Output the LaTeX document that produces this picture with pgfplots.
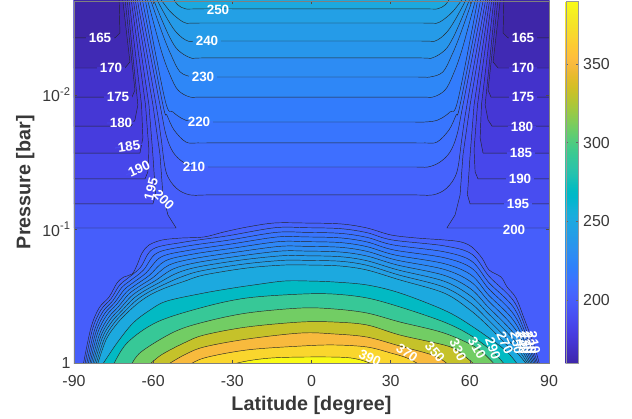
\documentclass[border=0pt]{standalone}
\usepackage{pgfplots}
\usepackage{fontspec}
\setmainfont{Liberation Sans}
\pgfplotsset{compat=1.18}
\definecolor{c160}{rgb}{0.2422,0.1504,0.6603}
\definecolor{c165}{rgb}{0.2504,0.1650,0.7076}
\definecolor{c170}{rgb}{0.2647,0.1978,0.7952}
\definecolor{c175}{rgb}{0.2706,0.2147,0.8364}
\definecolor{c180}{rgb}{0.2751,0.2342,0.8710}
\definecolor{c185}{rgb}{0.2803,0.2782,0.9221}
\definecolor{c190}{rgb}{0.2813,0.3006,0.9414}
\definecolor{c195}{rgb}{0.2795,0.3447,0.9717}
\definecolor{c200}{rgb}{0.2760,0.3667,0.9829}
\definecolor{c205}{rgb}{0.2699,0.3892,0.9906}
\definecolor{c210}{rgb}{0.2440,0.4358,0.9988}
\definecolor{c215}{rgb}{0.2206,0.4603,0.9973}
\definecolor{c220}{rgb}{0.1963,0.4847,0.9892}
\definecolor{c225}{rgb}{0.1786,0.5289,0.9682}
\definecolor{c230}{rgb}{0.1764,0.5499,0.9520}
\definecolor{c235}{rgb}{0.1540,0.5902,0.9218}
\definecolor{c240}{rgb}{0.1460,0.6091,0.9079}
\definecolor{c245}{rgb}{0.1380,0.6276,0.8973}
\definecolor{c250}{rgb}{0.1113,0.6635,0.8763}
\definecolor{c270}{rgb}{0.0067,0.7312,0.7660}
\definecolor{c290}{rgb}{0.2161,0.7843,0.5923}
\definecolor{c310}{rgb}{0.4456,0.8024,0.3909}
\definecolor{c330}{rgb}{0.7738,0.7598,0.1646}
\definecolor{c350}{rgb}{0.9728,0.7298,0.2394}
\definecolor{c370}{rgb}{0.9786,0.8403,0.1778}
\definecolor{c390}{rgb}{0.9769,0.9839,0.0805}
\definecolor{tk}{gray}{0.22}
\pgfplotsset{
  colormap={parula}{rgb=(0.2422,0.1504,0.6603) rgb=(0.2504,0.1650,0.7076) rgb=(0.2578,0.1818,0.7511) rgb=(0.2647,0.1978,0.7952) rgb=(0.2706,0.2147,0.8364) rgb=(0.2751,0.2342,0.8710) rgb=(0.2783,0.2559,0.8991) rgb=(0.2803,0.2782,0.9221) rgb=(0.2813,0.3006,0.9414) rgb=(0.2810,0.3228,0.9579) rgb=(0.2795,0.3447,0.9717) rgb=(0.2760,0.3667,0.9829) rgb=(0.2699,0.3892,0.9906) rgb=(0.2602,0.4123,0.9952) rgb=(0.2440,0.4358,0.9988) rgb=(0.2206,0.4603,0.9973) rgb=(0.1963,0.4847,0.9892) rgb=(0.1834,0.5074,0.9798) rgb=(0.1786,0.5289,0.9682) rgb=(0.1764,0.5499,0.9520) rgb=(0.1687,0.5703,0.9359) rgb=(0.1540,0.5902,0.9218) rgb=(0.1460,0.6091,0.9079) rgb=(0.1380,0.6276,0.8973) rgb=(0.1248,0.6459,0.8883) rgb=(0.1113,0.6635,0.8763) rgb=(0.0952,0.6798,0.8598) rgb=(0.0689,0.6948,0.8394) rgb=(0.0297,0.7082,0.8163) rgb=(0.0036,0.7203,0.7917) rgb=(0.0067,0.7312,0.7660) rgb=(0.0433,0.7411,0.7394) rgb=(0.0964,0.7500,0.7120) rgb=(0.1408,0.7584,0.6842) rgb=(0.1717,0.7670,0.6554) rgb=(0.1938,0.7758,0.6251) rgb=(0.2161,0.7843,0.5923) rgb=(0.2470,0.7918,0.5567) rgb=(0.2906,0.7973,0.5188) rgb=(0.3406,0.8008,0.4789) rgb=(0.3909,0.8029,0.4354) rgb=(0.4456,0.8024,0.3909) rgb=(0.5044,0.7993,0.3480) rgb=(0.5616,0.7942,0.3045) rgb=(0.6174,0.7876,0.2612) rgb=(0.6720,0.7793,0.2227) rgb=(0.7242,0.7698,0.1910) rgb=(0.7738,0.7598,0.1646) rgb=(0.8203,0.7498,0.1535) rgb=(0.8634,0.7406,0.1596) rgb=(0.9035,0.7330,0.1774) rgb=(0.9393,0.7288,0.2100) rgb=(0.9728,0.7298,0.2394) rgb=(0.9956,0.7434,0.2371) rgb=(0.9970,0.7659,0.2199) rgb=(0.9952,0.7861,0.1991) rgb=(0.9892,0.8134,0.1885) rgb=(0.9786,0.8403,0.1778) rgb=(0.9676,0.8658,0.1600) rgb=(0.9610,0.8894,0.1537) rgb=(0.9597,0.9135,0.1423) rgb=(0.9628,0.9373,0.1265) rgb=(0.9691,0.9606,0.1064) rgb=(0.9769,0.9839,0.0805)},
  table/lp/.style={x index=0,y expr={10^(\thisrowno{1})},row sep=\\},
  lev/.style={fill=#1,draw=black!85,line width=0.45bp,line join=round},
  levs/.style={lev=#1,smooth,tension=0.55},
}
\newcommand\tkfont{\fontsize{16}{18}\selectfont\color{tk}}
\newcommand\lbfont{\fontsize{19.8}{22}\selectfont\bfseries\color{tk}}
\newcommand\labfont{\fontsize{13.5}{15}\selectfont\bfseries\color{white}}
% #1 x px, #2 y px, #3 rotation, #4 text, #5 colour of the strip that opens the contour line
\newcommand\lab[5]{\node[fill=#5,inner sep=0pt,minimum width=28bp,minimum height=1.3bp,rotate=#3] at (#1,#2) {};
  \node[inner sep=0pt,rotate=#3,font=\labfont] at (#1,#2) {#4};}
\newcommand\labb[4]{\node[inner sep=0pt,rotate=#3,font=\labfont] at (#1,#2) {#4};}
\begin{document}
\begin{tikzpicture}
\path[use as bounding box] (-74bp,-55.5bp) rectangle (558bp,363.5bp);
\begin{axis}[
  scale only axis,width=475bp,height=362.5bp,
  xmin=-90,xmax=90,ymin=0.002,ymax=1,ymode=log,y dir=reverse,
  xtick={-90,-60,-30,0,30,60,90},
  xticklabels={-90,-60,-30,0,30,60,90},
  ytick={0.01,0.1,1},
  yticklabels={10\textsuperscript{-2},10\textsuperscript{-1},1},
  minor tick num=0,
  yminorticks=false,
  tick align=inside,major tick length=3.5bp,
  tick style={black!70,line width=0.4bp},
  axis line style={black!50,line width=0.5bp},
  ticklabel style={font=\tkfont},
  x tick label style={yshift=-8bp},
  xlabel={Latitude [degree]},ylabel={Pressure [bar]},
  xlabel style={font=\lbfont,yshift=-3bp},
  ylabel style={font=\lbfont,yshift=1bp},
  colormap name=parula,
  point meta min=159.5,point meta max=390,
  colorbar,
  colorbar style={
    at={(1.0352,1)},anchor=north west,width=12bp,
    ytick={200,250,300,350},
    /pgf/number format/assume math mode=true,
    yticklabel style={font=\tkfont,xshift=2bp},
    tick align=inside,major tick length=2bp,
    tick style={black!60,line width=0.3bp},
    axis line style={black!40,line width=0.4bp},
  },
  axis on top,
]
% background band, 200 to 205 K
\addplot[fill=c200,draw=none] table[lp] {lat logp\\ -95 0.1\\ 95 0.1\\ 95 -2.85\\ -95 -2.85\\} -- cycle;
% polar cold regions, contours 200 ... 165
\addplot[lev=c195] table[lp] {lat logp\\ -95 -1.009\\ -51.3 -1.009\\ -54.4 -1.106\\ -56.3 -1.255\\ -57.4 -1.552\\ -60.1 -1.925\\ -66.9 -2.72\\ 66.9 -2.72\\ 60.1 -1.925\\ 57.4 -1.552\\ 56.3 -1.255\\ 54.4 -1.106\\ 51.3 -1.009\\ 95 -1.009\\ 95 -2.85\\ -95 -2.85\\} -- cycle;
\addplot[lev=c190] table[lp] {lat logp\\ -95 -1.188\\ -60.1 -1.188\\ -59.1 -1.255\\ -60.1 -1.552\\ -61.6 -1.925\\ -67.6 -2.72\\ 67.6 -2.72\\ 61.6 -1.925\\ 60.1 -1.552\\ 59.1 -1.255\\ 60.1 -1.188\\ 95 -1.188\\ 95 -2.85\\ -95 -2.85\\} -- cycle;
\addplot[lev=c185] table[lp] {lat logp\\ -95 -1.374\\ -63.1 -1.374\\ -62.0 -1.426\\ -61.6 -1.590\\ -62.9 -1.925\\ -68.4 -2.72\\ 68.4 -2.72\\ 62.9 -1.925\\ 61.6 -1.590\\ 62.0 -1.426\\ 63.1 -1.374\\ 95 -1.374\\ 95 -2.85\\ -95 -2.85\\} -- cycle;
\addplot[lev=c180] table[lp] {lat logp\\ -95 -1.567\\ -65.0 -1.567\\ -63.9 -1.679\\ -64.4 -1.925\\ -69.2 -2.72\\ 69.2 -2.72\\ 64.4 -1.925\\ 63.9 -1.679\\ 65.0 -1.567\\ 95 -1.567\\ 95 -2.85\\ -95 -2.85\\} -- cycle;
\addplot[lev=c175] table[lp] {lat logp\\ -95 -1.768\\ -68.4 -1.768\\ -66.9 -1.813\\ -65.8 -1.925\\ -69.9 -2.72\\ 69.9 -2.72\\ 65.8 -1.925\\ 66.9 -1.813\\ 68.4 -1.768\\ 95 -1.768\\ 95 -2.85\\ -95 -2.85\\} -- cycle;
\addplot[lev=c170] table[lp] {lat logp\\ -95 -1.984\\ -68.0 -1.984\\ -66.9 -2.036\\ -70.7 -2.72\\ 70.7 -2.72\\ 66.9 -2.036\\ 68.0 -1.984\\ 95 -1.984\\ 95 -2.85\\ -95 -2.85\\} -- cycle;
\addplot[lev=c165] table[lp] {lat logp\\ -95 -2.200\\ -70.7 -2.200\\ -68.8 -2.245\\ -71.6 -2.72\\ 71.6 -2.72\\ 68.8 -2.245\\ 70.7 -2.200\\ 95 -2.200\\ 95 -2.85\\ -95 -2.85\\} -- cycle;
\addplot[lev=c160] table[lp] {lat logp\\ -95 -2.424\\ -74.5 -2.424\\ -72.6 -2.461\\ -72.9 -2.72\\ 72.9 -2.72\\ 72.6 -2.461\\ 74.5 -2.424\\ 95 -2.424\\ 95 -2.85\\ -95 -2.85\\} -- cycle;
% equatorial warm upper region, contours 205 ... 250
\addplot[levs=c205] table[lp] {lat logp\\ -66.1 -2.72\\ -58.9 -1.925\\ -57.0 -1.679\\ -55.1 -1.426\\ -51.3 -1.307\\ -46.0 -1.255\\ -38 -1.255\\ 0 -1.255\\ 38 -1.255\\ 46.0 -1.255\\ 51.3 -1.307\\ 55.1 -1.426\\ 57.0 -1.679\\ 58.9 -1.925\\ 66.1 -2.72\\} -- cycle;
\addplot[levs=c210] table[lp] {lat logp\\ -65.2 -2.72\\ -57.4 -1.925\\ -55.1 -1.701\\ -52.5 -1.575\\ -48.7 -1.500\\ -44.1 -1.463\\ -38 -1.463\\ 0 -1.463\\ 38 -1.463\\ 44.1 -1.463\\ 48.7 -1.500\\ 52.5 -1.575\\ 55.1 -1.701\\ 57.4 -1.925\\ 65.2 -2.72\\} -- cycle;
\addplot[levs=c215] table[lp] {lat logp\\ -64.2 -2.72\\ -56.3 -1.925\\ -54.8 -1.850\\ -52.1 -1.739\\ -47.6 -1.649\\ -43.0 -1.642\\ -37 -1.642\\ 0 -1.642\\ 37 -1.642\\ 43.0 -1.642\\ 47.6 -1.649\\ 52.1 -1.739\\ 54.8 -1.850\\ 56.3 -1.925\\ 64.2 -2.72\\} -- cycle;
\addplot[levs=c220] table[lp] {lat logp\\ -63.1 -2.72\\ -55.5 -1.962\\ -52.5 -1.873\\ -47.9 -1.813\\ -43.0 -1.798\\ -37 -1.798\\ 0 -1.798\\ 37 -1.798\\ 43.0 -1.798\\ 47.9 -1.813\\ 52.5 -1.873\\ 55.5 -1.962\\ 63.1 -2.72\\} -- cycle;
\addplot[levs=c225] table[lp] {lat logp\\ -62.3 -2.72\\ -57.0 -2.334\\ -53.6 -2.148\\ -50.6 -2.036\\ -46.0 -1.984\\ -40 -1.984\\ 0 -1.984\\ 40 -1.984\\ 46.0 -1.984\\ 50.6 -2.036\\ 53.6 -2.148\\ 57.0 -2.334\\ 62.3 -2.72\\} -- cycle;
\addplot[levs=c230] table[lp] {lat logp\\ -61.2 -2.72\\ -56.3 -2.446\\ -53.2 -2.297\\ -49.8 -2.171\\ -44.9 -2.133\\ -39 -2.133\\ 0 -2.133\\ 39 -2.133\\ 44.9 -2.133\\ 49.8 -2.171\\ 53.2 -2.297\\ 56.3 -2.446\\ 61.2 -2.72\\} -- cycle;
\addplot[levs=c235] table[lp] {lat logp\\ -60.1 -2.72\\ -56.7 -2.558\\ -53.6 -2.424\\ -50.6 -2.334\\ -45.7 -2.275\\ -40 -2.275\\ 0 -2.275\\ 40 -2.275\\ 45.7 -2.275\\ 50.6 -2.334\\ 53.6 -2.424\\ 56.7 -2.558\\ 60.1 -2.72\\} -- cycle;
\addplot[levs=c240] table[lp] {lat logp\\ -58.9 -2.72\\ -54.4 -2.558\\ -51.0 -2.461\\ -46.8 -2.401\\ -41 -2.401\\ 0 -2.401\\ 41 -2.401\\ 46.8 -2.401\\ 51.0 -2.461\\ 54.4 -2.558\\ 58.9 -2.72\\} -- cycle;
\addplot[levs=c245] table[lp] {lat logp\\ -57.4 -2.72\\ -54.4 -2.640\\ -51.3 -2.580\\ -47.6 -2.535\\ -42 -2.535\\ 0 -2.535\\ 42 -2.535\\ 47.6 -2.535\\ 51.3 -2.580\\ 54.4 -2.640\\ 57.4 -2.72\\} -- cycle;
\addplot[levs=c250] table[lp] {lat logp\\ -52.5 -2.72\\ -50.6 -2.669\\ -47.6 -2.640\\ -42 -2.640\\ 0 -2.640\\ 42 -2.640\\ 47.6 -2.640\\ 50.6 -2.669\\ 52.5 -2.72\\} -- cycle;
% lower dome, contours 205 ... 390
\addplot[levs=c205] table[lp] {lat logp\\ -86.6 0.02\\ -83.6 -0.264\\ -80.5 -0.413\\ -76.7 -0.495\\ -73.7 -0.599\\ -71.1 -0.644\\ -68.0 -0.666\\ -66.1 -0.733\\ -64.2 -0.823\\ -61.6 -0.882\\ -56.7 -0.919\\ -49.5 -0.934\\ -40.7 -0.942\\ -33.2 -0.979\\ -24.4 -1.016\\ -14.2 -1.046\\ -2.8 -1.046\\ 11.2 -1.039\\ 21.0 -1.009\\ 30.1 -0.957\\ 40.0 -0.934\\ 50.2 -0.920\\ 56.6 -0.905\\ 60.8 -0.867\\ 64.6 -0.785\\ 67.3 -0.696\\ 71.8 -0.644\\ 74.1 -0.570\\ 77.5 -0.488\\ 80.5 -0.339\\ 84.3 -0.138\\ 86.6 0.02\\} -- cycle;
\addplot[levs=c210] table[lp] {lat logp\\ -86.0 0.02\\ -83.0 -0.254\\ -79.8 -0.399\\ -76.0 -0.481\\ -72.8 -0.582\\ -70.0 -0.629\\ -64.9 -0.714\\ -60.1 -0.852\\ -48.5 -0.903\\ -32.2 -0.949\\ -13.8 -1.011\\ -2.0 -1.011\\ 11.0 -1.004\\ 21.0 -0.974\\ 30.5 -0.920\\ 50.2 -0.876\\ 60.7 -0.815\\ 67.2 -0.651\\ 73.8 -0.528\\ 77.2 -0.447\\ 80.3 -0.309\\ 86.1 0.02\\} -- cycle;
\addplot[levs=c215] table[lp] {lat logp\\ -85.4 0.02\\ -82.3 -0.244\\ -79.1 -0.385\\ -75.3 -0.467\\ -71.9 -0.566\\ -68.9 -0.614\\ -63.7 -0.695\\ -58.6 -0.822\\ -47.5 -0.873\\ -31.2 -0.919\\ -13.4 -0.976\\ -2.0 -0.976\\ 11.0 -0.969\\ 21.0 -0.939\\ 30.9 -0.883\\ 50.2 -0.832\\ 60.6 -0.763\\ 67.1 -0.605\\ 73.5 -0.486\\ 77.0 -0.405\\ 80.0 -0.279\\ 85.6 0.02\\} -- cycle;
\addplot[levs=c220] table[lp] {lat logp\\ -84.8 0.02\\ -81.7 -0.234\\ -78.4 -0.371\\ -74.6 -0.453\\ -71.0 -0.549\\ -67.8 -0.599\\ -62.6 -0.676\\ -57.0 -0.793\\ -46.6 -0.842\\ -30.3 -0.890\\ -12.9 -0.942\\ -2.0 -0.942\\ 11.0 -0.935\\ 21.0 -0.905\\ 31.2 -0.845\\ 50.2 -0.788\\ 60.6 -0.711\\ 67.0 -0.560\\ 73.2 -0.443\\ 76.7 -0.364\\ 79.8 -0.250\\ 85.1 0.02\\} -- cycle;
\addplot[levs=c225] table[lp] {lat logp\\ -84.2 0.02\\ -81.1 -0.224\\ -77.7 -0.357\\ -73.9 -0.439\\ -70.1 -0.532\\ -66.7 -0.584\\ -61.4 -0.657\\ -55.5 -0.763\\ -45.6 -0.812\\ -29.3 -0.860\\ -12.5 -0.907\\ -2.0 -0.907\\ 11.0 -0.900\\ 21.0 -0.870\\ 31.6 -0.808\\ 50.2 -0.744\\ 60.5 -0.659\\ 66.9 -0.514\\ 72.9 -0.401\\ 76.5 -0.322\\ 79.5 -0.220\\ 84.6 0.02\\} -- cycle;
\addplot[levs=c230] table[lp] {lat logp\\ -83.7 0.02\\ -80.4 -0.215\\ -76.9 -0.343\\ -73.1 -0.425\\ -69.3 -0.516\\ -65.6 -0.570\\ -60.2 -0.638\\ -54.0 -0.733\\ -44.6 -0.781\\ -28.3 -0.830\\ -12.1 -0.872\\ -2.0 -0.872\\ 11.0 -0.865\\ 21.0 -0.835\\ 32.0 -0.771\\ 50.2 -0.701\\ 60.4 -0.608\\ 66.9 -0.469\\ 72.6 -0.359\\ 76.2 -0.281\\ 79.3 -0.190\\ 84.1 0.02\\} -- cycle;
\addplot[levs=c235] table[lp] {lat logp\\ -83.1 0.02\\ -79.8 -0.205\\ -76.2 -0.329\\ -72.4 -0.411\\ -68.4 -0.499\\ -64.5 -0.555\\ -59.0 -0.619\\ -52.5 -0.703\\ -43.6 -0.751\\ -27.3 -0.800\\ -11.7 -0.837\\ -2.0 -0.837\\ 11.0 -0.830\\ 21.0 -0.800\\ 32.4 -0.734\\ 50.2 -0.657\\ 60.3 -0.556\\ 66.8 -0.423\\ 72.3 -0.317\\ 76.0 -0.239\\ 79.0 -0.160\\ 83.6 0.02\\} -- cycle;
\addplot[levs=c240] table[lp] {lat logp\\ -82.5 0.02\\ -79.2 -0.195\\ -75.5 -0.315\\ -71.7 -0.397\\ -67.5 -0.483\\ -63.4 -0.540\\ -57.9 -0.600\\ -50.9 -0.674\\ -42.7 -0.720\\ -26.4 -0.771\\ -11.2 -0.802\\ -2.0 -0.802\\ 11.0 -0.795\\ 21.0 -0.765\\ 32.7 -0.697\\ 50.2 -0.613\\ 60.2 -0.504\\ 66.7 -0.378\\ 72.0 -0.275\\ 75.7 -0.198\\ 78.8 -0.130\\ 83.1 0.02\\} -- cycle;
\addplot[levs=c245] table[lp] {lat logp\\ -81.9 0.02\\ -78.5 -0.185\\ -74.8 -0.301\\ -71.0 -0.383\\ -66.6 -0.467\\ -62.3 -0.525\\ -56.7 -0.581\\ -49.4 -0.644\\ -41.7 -0.690\\ -25.4 -0.741\\ -10.8 -0.768\\ -2.0 -0.768\\ 11.0 -0.761\\ 21.0 -0.731\\ 33.1 -0.659\\ 50.2 -0.569\\ 60.2 -0.452\\ 66.6 -0.332\\ 71.7 -0.232\\ 75.5 -0.156\\ 78.5 -0.101\\ 82.6 0.02\\} -- cycle;
\addplot[levs=c250] table[lp] {lat logp\\ -81.3 0.02\\ -77.9 -0.175\\ -74.1 -0.287\\ -70.3 -0.369\\ -65.7 -0.450\\ -61.2 -0.510\\ -55.5 -0.562\\ -47.9 -0.614\\ -40.7 -0.659\\ -24.4 -0.711\\ -10.4 -0.733\\ -0.6 -0.733\\ 10.8 -0.726\\ 21.0 -0.696\\ 33.5 -0.622\\ 50.2 -0.525\\ 60.1 -0.398\\ 66.5 -0.287\\ 71.4 -0.190\\ 75.2 -0.115\\ 78.3 -0.071\\ 82.1 0.02\\} -- cycle;
\addplot[levs=c270] table[lp] {lat logp\\ -79.6 0.02\\ -73.7 -0.153\\ -67.6 -0.302\\ -61.2 -0.398\\ -54.8 -0.465\\ -40.7 -0.525\\ -29.7 -0.562\\ -21.8 -0.585\\ -10.4 -0.614\\ -0.6 -0.614\\ 8.5 -0.607\\ 21.0 -0.585\\ 33.5 -0.525\\ 50.2 -0.398\\ 60.1 -0.287\\ 73.3 -0.101\\ 78.5 0.02\\} -- cycle;
\addplot[levs=c290] table[lp] {lat logp\\ -75.3 0.02\\ -69.9 -0.153\\ -58.5 -0.309\\ -40.7 -0.421\\ -24.4 -0.488\\ -4.0 -0.517\\ 8.5 -0.517\\ 21.0 -0.488\\ 33.5 -0.421\\ 50.2 -0.309\\ 60.1 -0.212\\ 68.8 -0.086\\ 73.7 0.02\\} -- cycle;
\addplot[levs=c310] table[lp] {lat logp\\ -68.5 0.02\\ -64.6 -0.086\\ -52.1 -0.235\\ -40.7 -0.309\\ -24.4 -0.376\\ -4.0 -0.413\\ 8.5 -0.406\\ 21.0 -0.376\\ 33.5 -0.309\\ 50.2 -0.227\\ 62.7 -0.115\\ 70.0 0.02\\} -- cycle;
\addplot[levs=c330] table[lp] {lat logp\\ -62.0 0.02\\ -57.0 -0.063\\ -48.3 -0.153\\ -40.7 -0.212\\ -24.4 -0.272\\ -4.0 -0.309\\ 8.5 -0.309\\ 21.0 -0.287\\ 33.5 -0.212\\ 50.2 -0.138\\ 55.5 -0.093\\ 62.5 0.02\\} -- cycle;
\addplot[levs=c350] table[lp] {lat logp\\ -55.5 0.02\\ -48.3 -0.063\\ -40.7 -0.123\\ -24.4 -0.182\\ -4.0 -0.227\\ 8.5 -0.220\\ 21.0 -0.197\\ 33.5 -0.130\\ 46.8 -0.056\\ 52.5 0.02\\} -- cycle;
\addplot[levs=c370] table[lp] {lat logp\\ -47.0 0.02\\ -40.7 -0.041\\ -24.4 -0.101\\ -4.0 -0.130\\ 8.5 -0.138\\ 21.0 -0.123\\ 30.1 -0.078\\ 36.2 -0.041\\ 42.0 0.02\\} -- cycle;
\addplot[levs=c390] table[lp] {lat logp\\ -33.0 0.02\\ -24.4 -0.019\\ -15.3 -0.041\\ -4.0 -0.048\\ 8.5 -0.048\\ 15.0 -0.041\\ 19.9 -0.019\\ 25.0 0.02\\} -- cycle;
\end{axis}
% contour labels; coordinates in this scope count from the image's top left
\begin{scope}[x=1bp,y=-1bp,shift={(-74,-363.5)}]
\lab{100}{38}{0}{165}{c165}
\lab{111}{68}{0}{170}{c170}
\lab{118}{97}{0}{175}{c175}
\lab{121}{123}{0}{180}{c180}
\lab{129}{146}{8}{185}{c185}
\lab{139}{169}{25}{190}{c190}
\labb{151}{189}{75}{195}
\labb{164}{200}{-45}{200}
\lab{218}{10}{0}{250}{c245}
\lab{207}{41}{0}{240}{c235}
\lab{203}{77}{0}{230}{c225}
\lab{199}{122}{0}{220}{c215}
\lab{194}{167}{0}{210}{c205}
\lab{523}{38}{0}{165}{c165}
\lab{523}{68}{0}{170}{c170}
\lab{523}{97}{0}{175}{c175}
\lab{522}{127}{0}{180}{c180}
\lab{521}{153}{0}{185}{c185}
\lab{520}{179}{0}{190}{c190}
\lab{518}{204}{0}{195}{c195}
\lab{514}{230}{0}{200}{c200}
\labb{370}{358}{-25}{390}
\labb{407}{353}{-35}{370}
\labb{435}{352}{-50}{350}
\labb{458}{350}{-65}{330}
\labb{477}{348}{-60}{310}
\labb{493}{348}{-70}{290}
\labb{505}{343}{-65}{270}
\labb{517}{343}{-78}{250}
\labb{522}{343}{-78}{240}
\labb{526}{343}{-78}{230}
\labb{530}{343}{-78}{220}
\labb{534}{343}{-78}{210}
\end{scope}
\end{tikzpicture}
\end{document}
